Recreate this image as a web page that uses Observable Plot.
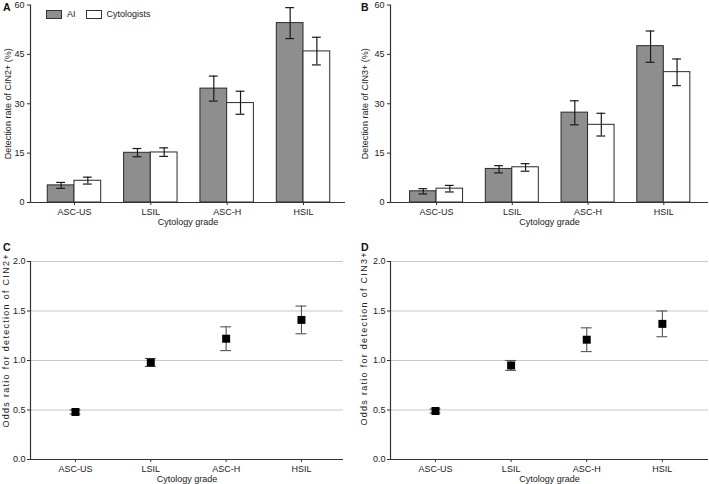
<!DOCTYPE html>
<html>
<head>
<meta charset="utf-8">
<script src="https://cdn.jsdelivr.net/npm/d3@7"></script>
<script src="https://cdn.jsdelivr.net/npm/@observablehq/plot@0.6"></script>
<style>
  html, body { margin: 0; padding: 0; background: #fff; }
  #wrap { position: relative; width: 709px; height: 484px; font-family: "Liberation Sans", Arial, sans-serif; color: #222; }
  .panel { position: absolute; }
  .letter { position: absolute; font-weight: bold; font-size: 10.5px; color: #111; }
  .legend { position: absolute; left: 46px; top: 9px; font-size: 9px; display: flex; align-items: center; }
  .sw { display: inline-block; width: 14px; height: 7px; border: 1px solid #333; box-sizing: content-box; }
</style>
</head>
<body>
<div id="wrap"></div>
<script>
// ---- data ----
const grades = ["ASC-US", "LSIL", "ASC-H", "HSIL"];
const seriesNames = ["AI", "Cytologists"];

// Panel A: detection rate of CIN2+ (%)
const cin2AI    = [5.2, 15.1, 34.6, 54.5];
const cin2AILo  = [4.3, 13.9, 30.8, 49.8];
const cin2AIHi  = [6.1, 16.4, 38.4, 59.2];
const cin2Cyt   = [6.6, 15.2, 30.2, 45.9];
const cin2CytLo = [5.6, 14.0, 26.8, 41.8];
const cin2CytHi = [7.7, 16.6, 33.8, 50.2];

// Panel B: detection rate of CIN3+ (%)
const cin3AI    = [3.4, 10.2, 27.3, 47.5];
const cin3AILo  = [2.6, 9.0, 23.6, 42.6];
const cin3AIHi  = [4.2, 11.2, 30.9, 52.1];
const cin3Cyt   = [4.2, 10.7, 23.6, 39.6];
const cin3CytLo = [3.2, 9.5, 20.2, 35.5];
const cin3CytHi = [5.2, 11.8, 27.1, 43.6];

// Panels C, D: odds ratios
const or2   = [0.48, 0.98, 1.22, 1.41];
const or2Lo = [0.46, 0.94, 1.10, 1.27];
const or2Hi = [0.50, 1.02, 1.34, 1.55];
const or3   = [0.49, 0.95, 1.21, 1.37];
const or3Lo = [0.47, 0.90, 1.09, 1.24];
const or3Hi = [0.51, 1.00, 1.33, 1.50];

const rateTicks = [0, 15, 30, 45, 60];
const orTicks = [0, 0.5, 1, 1.5, 2];

// ---- styles ----
const aiFill = "#8e8e8e", cytFill = "#ffffff", barStroke = "#2a2a2a";
const errColor = "#1a1a1a", orErrColor = "#555555", gridColor = "#c8c8c8", axisColor = "#333333";
const bw = 0.35;     // bar width in category units
const cap = 0.058;   // half cap width (bar panels)
const orCap = 0.072; // half cap width (OR panels)
const baseStyle = { fontFamily: "'Liberation Sans', Arial, sans-serif", fontSize: "9px", color: "#222", background: "transparent", overflow: "visible" };

function barPanel(o) {
  const rows = grades.flatMap((g, i) => [
    { grade: g, i, series: "AI", v: o.ai[i], lo: o.aiLo[i], hi: o.aiHi[i] },
    { grade: g, i, series: "Cytologists", v: o.cyt[i], lo: o.cytLo[i], hi: o.cytHi[i] }
  ]);
  const left = d => d.series === "AI" ? d.i - bw : d.i;
  const mid = d => left(d) + bw / 2;
  return Plot.plot({
    width: 354, height: 230,
    marginTop: 4.5, marginBottom: 28, marginLeft: o.marginLeft, marginRight: o.marginRight,
    x: { type: "linear", domain: o.xDomain },
    y: { domain: [0, 60] },
    color: { domain: seriesNames, range: [aiFill, cytFill] },
    style: baseStyle,
    marks: [
      Plot.rect(rows, { x1: left, x2: d => left(d) + bw, y1: 0, y2: "v", fill: "series", stroke: barStroke, strokeWidth: 1 }),
      Plot.ruleX(rows, { x: mid, y1: "lo", y2: "hi", stroke: errColor, strokeWidth: 1.2 }),
      Plot.ruleY(rows, { x1: d => mid(d) - cap, x2: d => mid(d) + cap, y: "lo", stroke: errColor, strokeWidth: 1.2 }),
      Plot.ruleY(rows, { x1: d => mid(d) - cap, x2: d => mid(d) + cap, y: "hi", stroke: errColor, strokeWidth: 1.2 }),
      Plot.ruleY([0], { stroke: axisColor, strokeWidth: 1.2 }),
      Plot.ruleX([o.xDomain[0]], { stroke: axisColor, strokeWidth: 1.2 }),
      Plot.axisX({ ticks: [0, 1, 2, 3], tickFormat: i => grades[i], tickSize: 3, tickPadding: 3, stroke: axisColor,
                   label: "Cytology grade", labelAnchor: "center", labelOffset: 22, labelArrow: "none" }),
      Plot.axisY({ ticks: rateTicks, tickFormat: d => String(d), tickSize: 3, tickPadding: 3, stroke: axisColor,
                   label: o.yLabel, labelAnchor: "center", labelOffset: o.labelOffset, labelArrow: "none" })
    ]
  });
}

function orPanel(o) {
  const rows = grades.map((g, i) => ({ grade: g, i, v: o.v[i], lo: o.lo[i], hi: o.hi[i] }));
  const svg = Plot.plot({
    width: 354, height: 244,
    marginTop: 21, marginBottom: 25, marginLeft: o.marginLeft, marginRight: o.marginRight,
    x: { type: "linear", domain: o.xDomain },
    y: { domain: [0, 2] },
    style: baseStyle,
    marks: [
      Plot.ruleY(orTicks.filter(t => t > 0), { stroke: gridColor, strokeWidth: 1.2 }),
      Plot.ruleX(rows, { x: "i", y1: "lo", y2: "hi", stroke: orErrColor, strokeWidth: 1.1 }),
      Plot.ruleY(rows, { x1: d => d.i - orCap, x2: d => d.i + orCap, y: "lo", stroke: orErrColor, strokeWidth: 1.1 }),
      Plot.ruleY(rows, { x1: d => d.i - orCap, x2: d => d.i + orCap, y: "hi", stroke: orErrColor, strokeWidth: 1.1 }),
      Plot.dot(rows, { x: "i", y: "v", symbol: "square", r: 4.5, fill: "#000", stroke: "none" }),
      Plot.ruleY([0], { stroke: axisColor, strokeWidth: 1.2 }),
      Plot.ruleX([o.xDomain[0]], { stroke: axisColor, strokeWidth: 1.2 }),
      Plot.axisX({ ticks: [0, 1, 2, 3], tickFormat: i => grades[i], tickSize: 3, tickPadding: 3, stroke: axisColor,
                   label: "Cytology grade", labelAnchor: "center", labelOffset: 22, labelArrow: "none" }),
      Plot.axisY({ ticks: orTicks, tickFormat: d3.format(".1f"), tickSize: 3, tickPadding: 2, stroke: axisColor, label: null }),
      Plot.text([o.yLabel], { text: d => d, frameAnchor: "left", rotate: -90, textAnchor: "start",
                              dx: -o.labelOffset, dy: o.labelDy, fill: "#222", fontSize: 9, className: "ylab" })
    ]
  });
  // the reference's y title is drawn more widely spaced
  d3.select(svg).selectAll(".ylab text").attr("textLength", 173).attr("lengthAdjust", "spacing");
  return svg;
}

const wrap = document.getElementById("wrap");
function place(node, left, top) {
  const d = document.createElement("div");
  d.className = "panel";
  d.style.left = left + "px";
  d.style.top = top + "px";
  d.appendChild(node);
  wrap.appendChild(d);
}

place(barPanel({ ai: cin2AI, aiLo: cin2AILo, aiHi: cin2AIHi, cyt: cin2Cyt, cytLo: cin2CytLo, cytHi: cin2CytHi,
  yLabel: "Detection rate of CIN2+ (%)", xDomain: [-0.576, 3.55], marginLeft: 30, marginRight: 9, labelOffset: 26 }), 0, 0);
place(barPanel({ ai: cin3AI, aiLo: cin3AILo, aiHi: cin3AIHi, cyt: cin3Cyt, cytLo: cin3CytLo, cytHi: cin3CytHi,
  yLabel: "Detection rate of CIN3+ (%)", xDomain: [-0.608, 3.59], marginLeft: 35, marginRight: 1, labelOffset: 29 }), 355, 0);
place(orPanel({ v: or2, lo: or2Lo, hi: or2Hi, yLabel: "Odds ratio for detection of CIN2+",
  xDomain: [-0.597, 3.558], marginLeft: 30, marginRight: 11, labelOffset: 24, labelDy: 67 }), 0, 240);
place(orPanel({ v: or3, lo: or3Lo, hi: or3Hi, yLabel: "Odds ratio for detection of CIN3+",
  xDomain: [-0.595, 3.61], marginLeft: 35, marginRight: 1, labelOffset: 26.5, labelDy: 65 }), 355, 240);

// panel letters
[["A", 3, 1], ["B", 361, 1], ["C", 3, 241], ["D", 361, 241]].forEach(([t, x, y]) => {
  const s = document.createElement("div");
  s.className = "letter";
  s.textContent = t;
  s.style.left = x + "px";
  s.style.top = y + "px";
  wrap.appendChild(s);
});

// legend for panel A
const leg = document.createElement("div");
leg.className = "legend";
const fills = [aiFill, cytFill];
seriesNames.forEach((name, k) => {
  const sw = document.createElement("span");
  sw.className = "sw";
  sw.style.background = fills[k];
  const tx = document.createElement("span");
  tx.textContent = name;
  tx.style.marginLeft = "5px";
  tx.style.marginRight = k === 0 ? "10px" : "0px";
  leg.appendChild(sw);
  leg.appendChild(tx);
});
wrap.appendChild(leg);
</script>
</body>
</html>
